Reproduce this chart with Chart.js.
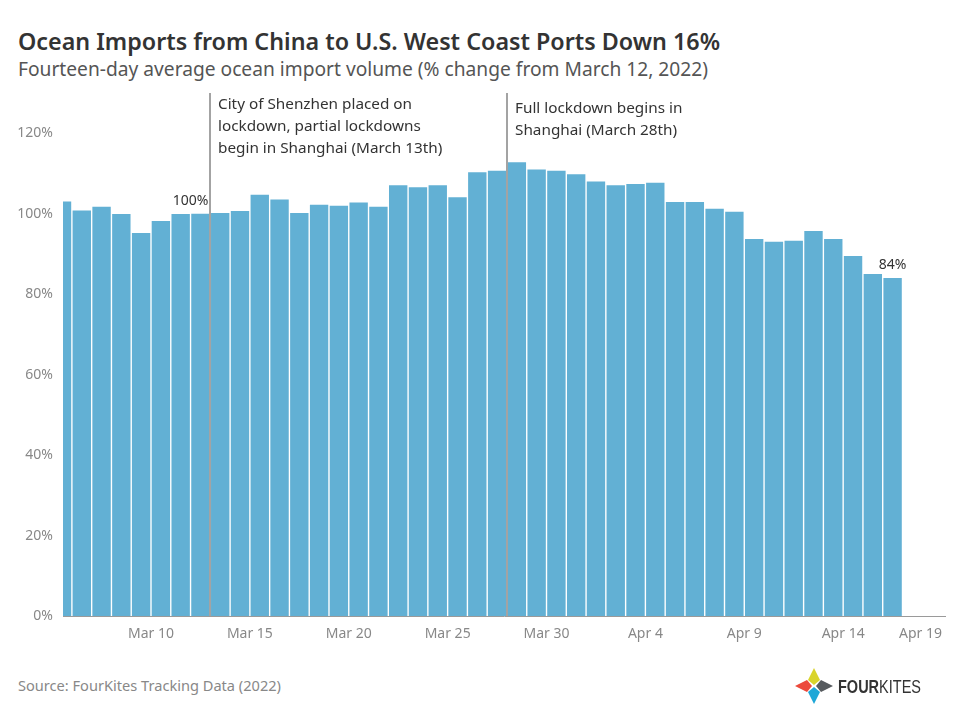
<!DOCTYPE html>
<html>
<head>
<meta charset="utf-8">
<script src="https://cdn.jsdelivr.net/npm/chart.js@4.4.1/dist/chart.umd.min.js"></script>
<style>
  html, body { margin: 0; padding: 0; background: #fff; }
  body { width: 960px; height: 720px; position: relative; overflow: hidden; font-family: "Noto Sans", sans-serif; }
  #title { position: absolute; left: 18px; top: 25px; font-size: 23.3px; font-weight: 600; color: #333; white-space: nowrap; }
  #subtitle { position: absolute; left: 18px; top: 55px; font-size: 19.2px; color: #555; white-space: nowrap; }
  #source { position: absolute; left: 18px; top: 675px; font-size: 14.6px; color: #888; white-space: nowrap; }
  #chartBox { position: absolute; left: 0; top: 88px; width: 960px; height: 580px; }
  #logo { position: absolute; left: 792px; top: 664px; }
</style>
</head>
<body>
<div id="title">Ocean Imports from China to U.S. West Coast Ports Down 16%</div>
<div id="subtitle">Fourteen-day average ocean import volume (% change from March 12, 2022)</div>
<div id="chartBox"><canvas id="importChart" width="960" height="580"></canvas></div>
<div id="source">Source: FourKites Tracking Data (2022)</div>
<svg id="logo" width="140" height="44" viewBox="0 0 140 44">
  <polygon points="22,4 28,16 22,21 16,16" fill="#d9d42c"/>
  <polygon points="3,22 15,16 20,22 15,28" fill="#ec4a3c"/>
  <polygon points="41,22 29,16 24,22 29,28" fill="#575b5f"/>
  <polygon points="22,40 28,28 22,23 16,28" fill="#1ea7d7"/>
  <text x="46" y="29" font-family="Liberation Sans Narrow, Liberation Sans, sans-serif" font-size="19" fill="#333" textLength="83" lengthAdjust="spacingAndGlyphs"><tspan font-weight="bold">FOUR</tspan><tspan>KITES</tspan></text>
</svg>
<script>
"use strict";

// one bar per day, fourteen-day average as % of March 12, 2022
var barDates = [
    'Mar 5', 'Mar 6', 'Mar 7', 'Mar 8', 'Mar 9', 'Mar 10', 'Mar 11', 'Mar 12',
    'Mar 13', 'Mar 14', 'Mar 15', 'Mar 16', 'Mar 17', 'Mar 18', 'Mar 19', 'Mar 20',
    'Mar 21', 'Mar 22', 'Mar 23', 'Mar 24', 'Mar 25', 'Mar 26', 'Mar 27', 'Mar 28',
    'Mar 29', 'Mar 30', 'Mar 31', 'Apr 1', 'Apr 2', 'Apr 3', 'Apr 4', 'Apr 5',
    'Apr 6', 'Apr 7', 'Apr 8', 'Apr 9', 'Apr 10', 'Apr 11', 'Apr 12', 'Apr 13',
    'Apr 14', 'Apr 15', 'Apr 16'
];
var volumePct = [
    103, 100.8, 101.7, 99.9, 95.2, 98.2, 99.9, 100,
    100.2, 100.7, 104.7, 103.5, 100.2, 102.2, 102.0, 102.8,
    101.7, 107.1, 106.6, 107.1, 104.1, 110.3, 110.7, 112.8,
    111.0, 110.7, 109.8, 108.0, 107.1, 107.4, 107.7, 102.9,
    102.9, 101.2, 100.5, 93.7, 93.0, 93.3, 95.7, 93.7,
    89.5, 85.0, 84
];
var tickDates = ['Mar 10', 'Mar 15', 'Mar 20', 'Mar 25', 'Mar 30', 'Apr 4', 'Apr 9', 'Apr 14', 'Apr 19'];
var yTicks = [0, 20, 40, 60, 80, 100, 120];
var labelledDates = ['Mar 12', 'Apr 16'];
var eventDates = ['Mar 13', 'Mar 28'];
var eventNotes = [
    ['City of Shenzhen placed on', 'lockdown, partial lockdowns', 'begin in Shanghai (March 13th)'],
    ['Full lockdown begins in', 'Shanghai (March 28th)']
];

// day count from March 1st (Mar 1 = 1, Apr 1 = 32)
function dayNum(label) {
    var parts = label.split(' ');
    return Number(parts[1]) + (parts[0] === 'Apr' ? 31 : 0);
}
function dayLabel(n) {
    return n > 31 ? 'Apr ' + (n - 31) : 'Mar ' + n;
}

var xMin = 5.55, xMax = 50.15;
var barColor = '#62b0d4';
var textColor = '#333333';
var tickColor = '#888888';

var barPoints = barDates.map(function(d, i) {
    return { x: dayNum(d) + 0.5, y: volumePct[i] };
});

var notesPlugin = {
    id: 'notes',
    afterDatasetsDraw: function(chart) {
        var ctx = chart.ctx;
        var xs = chart.scales.x, ys = chart.scales.y;
        var area = chart.chartArea;
        ctx.save();
        // event lines and notes
        eventDates.forEach(function(d, i) {
            var px = Math.round(xs.getPixelForValue(dayNum(d)));
            ctx.strokeStyle = '#a3a3a3';
            ctx.lineWidth = 2;
            ctx.beginPath();
            ctx.moveTo(px, area.top);
            ctx.lineTo(px, area.bottom);
            ctx.stroke();
            ctx.fillStyle = textColor;
            ctx.font = '15.3px "Noto Sans", sans-serif';
            ctx.textAlign = 'left';
            ctx.textBaseline = 'middle';
            var top = i === 0 ? 12 : 16;
            eventNotes[i].forEach(function(line, j) {
                ctx.fillText(line, px + 8, area.top + top + j * 22);
            });
        });
        // value labels
        ctx.font = '14px "Noto Sans", sans-serif';
        ctx.fillStyle = textColor;
        ctx.textAlign = 'center';
        ctx.textBaseline = 'alphabetic';
        labelledDates.forEach(function(d) {
            var idx = barDates.indexOf(d);
            var v = volumePct[idx];
            var cx = d === 'Mar 12' ? xs.getPixelForValue(dayNum(d)) : xs.getPixelForValue(dayNum(d) + 0.5);
            ctx.fillText(Math.round(v) + '%', cx, ys.getPixelForValue(v) - 9);
        });
        ctx.restore();
    }
};

var chart = new Chart(document.getElementById('importChart'), {
    type: 'bar',
    data: {
        datasets: [{
            data: barPoints,
            backgroundColor: barColor,
            borderWidth: 0,
            barPercentage: 0.93,
            categoryPercentage: 1,
            clip: 0
        }]
    },
    options: {
        responsive: false,
        animation: false,
        layout: { padding: { top: 5, right: 15, left: 0, bottom: 0 } },
        plugins: {
            legend: { display: false },
            tooltip: { enabled: false }
        },
        scales: {
            x: {
                type: 'linear',
                min: xMin,
                max: xMax,
                offset: false,
                z: 1,
                grid: { display: false, drawTicks: false },
                border: { display: true, color: '#9a9a9a', width: 1 },
                afterBuildTicks: function(axis) {
                    axis.ticks = [{ value: xMin }].concat(tickDates.map(function(d) {
                        return { value: dayNum(d) };
                    }));
                },
                afterFit: function(axis) {
                    axis.height = 52;
                    axis.paddingLeft = 0;
                    axis.paddingRight = 0;
                },
                ticks: {
                    autoSkip: false,
                    maxRotation: 0,
                    align: 'inner',
                    padding: 10,
                    color: tickColor,
                    font: { family: '"Noto Sans", sans-serif', size: 14 },
                    callback: function(v) {
                        return Number.isInteger(v) ? dayLabel(v) : '';
                    }
                }
            },
            y: {
                min: 0,
                max: 130,
                grid: { display: false, drawTicks: false },
                border: { display: false },
                afterBuildTicks: function(axis) {
                    axis.ticks = yTicks.map(function(v) { return { value: v }; });
                },
                afterFit: function(axis) {
                    axis.width = 63;
                    axis.paddingTop = 0;
                    axis.paddingBottom = 0;
                },
                ticks: {
                    padding: 10,
                    color: tickColor,
                    font: { family: '"Noto Sans", sans-serif', size: 14 },
                    callback: function(v) { return v + '%'; }
                }
            }
        }
    },
    plugins: [notesPlugin]
});
</script>
</body>
</html>
